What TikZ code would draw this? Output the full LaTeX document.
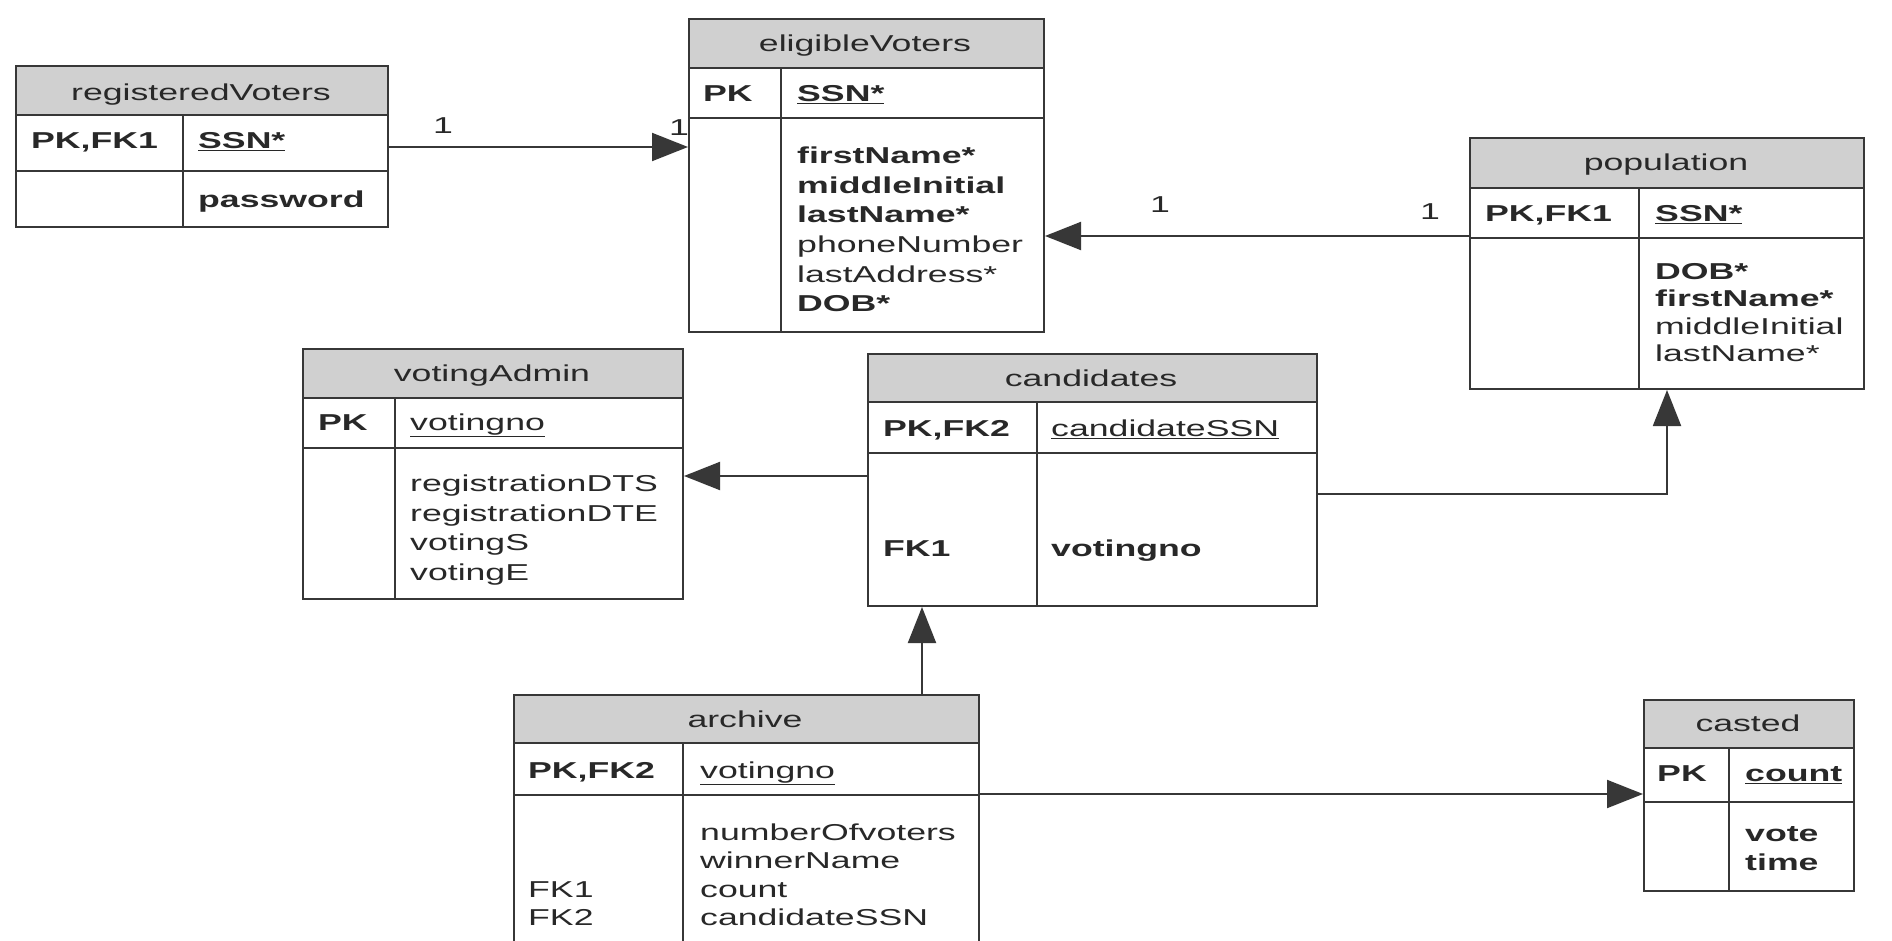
\documentclass[tikz,border=0pt]{standalone}
\usepackage{fontspec}
\setmainfont{Liberation Sans}[FakeStretch=1.55]
\usetikzlibrary{arrows.meta}

\definecolor{headgray}{RGB}{208,208,208}
\definecolor{inkgray}{RGB}{55,55,55}
\definecolor{textgray}{RGB}{40,40,40}

\begin{document}
\begin{tikzpicture}[x=1pt,y=-1pt,
  font=\fontsize{23}{29}\selectfont,
  tbl/.style={draw=inkgray, line width=2pt, anchor=north west, inner sep=0pt},
  rule/.style={draw=inkgray, line width=2pt},
  ttl/.style={text=textgray, inner sep=0pt, text height=16.5pt, text depth=0pt},
  fld/.style={text=textgray, inner sep=0pt, text height=16.5pt, text depth=0pt, anchor=west},
  card/.style={text=textgray, inner sep=0pt, text height=16.5pt, text depth=0pt},
  fk/.style={draw=inkgray, line width=2pt, -{Triangle[length=36pt,width=28pt]}}
]

\fill[white] (0,0) rectangle (1892,941);
\clip (0,0) rectangle (1892,941);

% registeredVoters
\fill[headgray] (15,65) rectangle (387,115);
\node[tbl, minimum width=372, minimum height=161] (regVoters) at (15,65) {};
\draw[rule] (15,115) -- (387,115);
\draw[rule] (15,171) -- (387,171);
\draw[rule] (183,115) -- (183,226);
\node[ttl] (rvTitle) at (201,92) {registeredVoters};
\node[fld] (rvKey) at (31,140) {\textbf{PK,FK1}};
\node[fld] (rvSSN) at (198,140) {\textbf{\underline{SSN*}}};
\node[fld] (rvPass) at (198,199) {\textbf{password}};

% eligibleVoters
\fill[headgray] (688,18) rectangle (1043,68);
\node[tbl, minimum width=355, minimum height=313] (eligVoters) at (688,18) {};
\draw[rule] (688,68) -- (1043,68);
\draw[rule] (688,118) -- (1043,118);
\draw[rule] (781,68) -- (781,331);
\node[ttl] (evTitle) at (865,43) {eligibleVoters};
\node[fld] (evKey) at (703,93) {\textbf{PK}};
\node[fld] (evSSN) at (797,93) {\textbf{\underline{SSN*}}};
\node[fld] (evFirst) at (797,155) {\textbf{firstName*}};
\node[fld] (evMiddle) at (797,185) {\textbf{middleInitial}};
\node[fld] (evLast) at (797,214) {\textbf{lastName*}};
\node[fld] (evPhone) at (797,244) {phoneNumber};
\node[fld] (evAddr) at (797,274) {lastAddress*};
\node[fld] (evDOB) at (797,303) {\textbf{DOB*}};

% population
\fill[headgray] (1469,137) rectangle (1863,188);
\node[tbl, minimum width=394, minimum height=251] (population) at (1469,137) {};
\draw[rule] (1469,188) -- (1863,188);
\draw[rule] (1469,238) -- (1863,238);
\draw[rule] (1639,188) -- (1639,388);
\node[ttl] (ppTitle) at (1666,162) {population};
\node[fld] (ppKey) at (1485,213) {\textbf{PK,FK1}};
\node[fld] (ppSSN) at (1655,213) {\textbf{\underline{SSN*}}};
\node[fld] (ppDOB) at (1655,271) {\textbf{DOB*}};
\node[fld] (ppFirst) at (1655,298) {\textbf{firstName*}};
\node[fld] (ppMiddle) at (1655,326) {middleInitial};
\node[fld] (ppLast) at (1655,353) {lastName*};

% votingAdmin
\fill[headgray] (302,348) rectangle (682,398);
\node[tbl, minimum width=380, minimum height=250] (votingAdmin) at (302,348) {};
\draw[rule] (302,398) -- (682,398);
\draw[rule] (302,448) -- (682,448);
\draw[rule] (395,398) -- (395,598);
\node[ttl] (vaTitle) at (492,373) {votingAdmin};
\node[fld] (vaKey) at (318,422) {\textbf{PK}};
\node[fld] (vaNo) at (410,422) {\underline{votingno}};
\node[fld] (vaRegS) at (410,483) {registrationDTS};
\node[fld] (vaRegE) at (410,513) {registrationDTE};
\node[fld] (vaVotS) at (410,542) {votingS};
\node[fld] (vaVotE) at (410,572) {votingE};

% candidates
\fill[headgray] (867,353) rectangle (1316,402);
\node[tbl, minimum width=449, minimum height=252] (candidates) at (867,353) {};
\draw[rule] (867,402) -- (1316,402);
\draw[rule] (867,453) -- (1316,453);
\draw[rule] (1037,402) -- (1037,605);
\node[ttl] (cdTitle) at (1091,378) {candidates};
\node[fld] (cdKey) at (883,428) {\textbf{PK,FK2}};
\node[fld] (cdSSN) at (1051,428) {\underline{candidateSSN}};
\node[fld] (cdFK) at (883,548) {\textbf{FK1}};
\node[fld] (cdNo) at (1051,548) {\textbf{votingno}};

% archive
\fill[headgray] (513,694) rectangle (978,743);
\node[tbl, minimum width=465, minimum height=262] (archive) at (513,694) {};
\draw[rule] (513,743) -- (978,743);
\draw[rule] (513,795) -- (978,795);
\draw[rule] (683,743) -- (683,956);
\node[ttl] (arTitle) at (745,719) {archive};
\node[fld] (arKey) at (528,770) {\textbf{PK,FK2}};
\node[fld] (arNo) at (700,770) {\underline{votingno}};
\node[fld] (arVoters) at (700,832) {numberOfvoters};
\node[fld] (arWinner) at (700,860) {winnerName};
\node[fld] (arCount) at (700,889) {count};
\node[fld] (arSSN) at (700,917) {candidateSSN};
\node[fld] (arFK1) at (528,889) {FK1};
\node[fld] (arFK2) at (528,917) {FK2};

% casted
\fill[headgray] (1643,699) rectangle (1853,748);
\node[tbl, minimum width=210, minimum height=191] (casted) at (1643,699) {};
\draw[rule] (1643,748) -- (1853,748);
\draw[rule] (1643,802) -- (1853,802);
\draw[rule] (1729,748) -- (1729,890);
\node[ttl] (csTitle) at (1748,723) {casted};
\node[fld] (csKey) at (1657,773) {\textbf{PK}};
\node[fld] (csCount) at (1745,773) {\textbf{\underline{count}}};
\node[fld] (csVote) at (1745,833) {\textbf{vote}};
\node[fld] (csTime) at (1745,862) {\textbf{time}};

% relations
\draw[fk] ([yshift=-82pt]regVoters.north east) coordinate (rvOut) -- (rvOut -| eligVoters.west);
\node[card] (rvOne) at (443,125) {1};
\node[card] (evOne) at (679,127) {1};

\draw[fk] ([yshift=-99pt]population.north west) coordinate (ppOut) -- (ppOut -| eligVoters.east);
\node[card] (evTwo) at (1160,204) {1};
\node[card] (ppOne) at (1430,211) {1};

\draw[fk] ([yshift=-123pt]candidates.north west) coordinate (cdLeft) -- (cdLeft -| votingAdmin.east);
\draw[fk] ([yshift=-141pt]candidates.north east) -| (population.south);
\draw[fk] ([xshift=409pt]archive.north west) coordinate (arUp) -- (arUp |- candidates.south);
\draw[fk] ([yshift=-100pt]archive.north east) coordinate (arOut) -- (arOut -| casted.west);

\end{tikzpicture}
\end{document}
